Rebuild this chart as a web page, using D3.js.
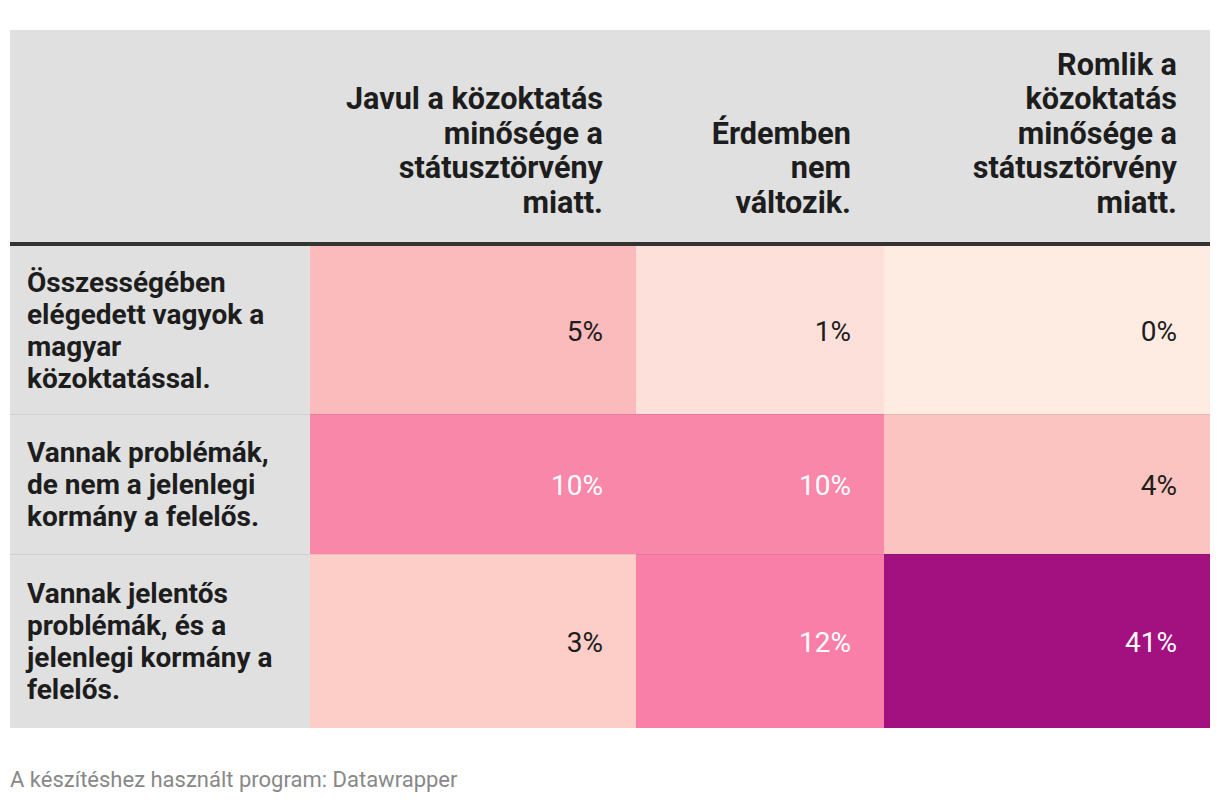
<!DOCTYPE html>
<html>
<head>
<meta charset="utf-8">
<script src="https://cdn.jsdelivr.net/npm/d3@7/dist/d3.min.js"></script>
<style>
  html, body { margin: 0; padding: 0; background: #ffffff; }
  svg { display: block; font-family: Roboto, "Noto Sans", sans-serif; }
</style>
</head>
<body>
<svg id="chart" width="1220" height="804"></svg>
<script>
// ---------- DATA ----------
const columns = [
  "Javul a közoktatás minősége a státusztörvény miatt.",
  "Érdemben nem változik.",
  "Romlik a közoktatás minősége a státusztörvény miatt."
];
const columnLines = [
  ["Javul a közoktatás", "minősége a", "státusztörvény", "miatt."],
  ["Érdemben", "nem", "változik."],
  ["Romlik a", "közoktatás", "minősége a", "státusztörvény", "miatt."]
];
const rows = [
  "Összességében elégedett vagyok a magyar közoktatással.",
  "Vannak problémák, de nem a jelenlegi kormány a felelős.",
  "Vannak jelentős problémák, és a jelenlegi kormány a felelős."
];
const rowLines = [
  ["Összességében", "elégedett vagyok a", "magyar", "közoktatással."],
  ["Vannak problémák,", "de nem a jelenlegi", "kormány a felelős."],
  ["Vannak jelentős", "problémák, és a", "jelenlegi kormány a", "felelős."]
];
const valuesImproves = [5, 10, 3];
const valuesNoChange = [1, 10, 12];
const valuesWorsens = [0, 4, 41];
const footerText = "A készítéshez használt program: Datawrapper";

// ---------- LAYOUT ----------
const W = 1220, H = 804;
const left = 10, right = 1210;
const headerTop = 30, headerBottom = 242, ruleH = 4;
const labelColRight = 310;
const colEdges = [310, 636, 884, 1210];
const rowEdges = [246, 414, 554, 728];

const svg = d3.select("#chart");
svg.append("rect").attr("width", W).attr("height", H).attr("fill", "#ffffff");

const series = [valuesImproves, valuesNoChange, valuesWorsens];
const cells = [];
rows.forEach((r, ri) => columns.forEach((c, ci) => cells.push({ row: r, col: c, ri, ci, v: series[ci][ri] })));

// scales
const xStart = d3.scaleOrdinal().domain(columns).range(colEdges.slice(0, 3));
const xEnd = d3.scaleOrdinal().domain(columns).range(colEdges.slice(1));
const yStart = d3.scaleOrdinal().domain(rows).range(rowEdges.slice(0, 3));
const yEnd = d3.scaleOrdinal().domain(rows).range(rowEdges.slice(1));
const color = d3.scaleLinear()
  .domain([0, 1, 3, 4, 5, 10, 12, 41])
  .range(["#feebe2", "#fde0da", "#fdcdc7", "#fcc4c0", "#fbbabc", "#f887aa", "#f97fa8", "#a3107f"])
  .interpolate(d3.interpolateRgb);

// header background
svg.append("rect").attr("x", left).attr("y", headerTop)
  .attr("width", right - left).attr("height", headerBottom - headerTop).attr("fill", "#e0e0e0");
svg.append("rect").attr("x", left).attr("y", headerBottom)
  .attr("width", right - left).attr("height", ruleH).attr("fill", "#333333");
// label column background
svg.append("rect").attr("x", left).attr("y", rowEdges[0])
  .attr("width", labelColRight - left).attr("height", rowEdges[3] - rowEdges[0]).attr("fill", "#e0e0e0");

// cells
svg.append("g").selectAll("rect").data(cells).join("rect")
  .attr("x", d => xStart(d.col))
  .attr("y", d => yStart(d.row))
  .attr("width", d => xEnd(d.col) - xStart(d.col))
  .attr("height", d => yEnd(d.row) - yStart(d.row))
  .attr("fill", d => color(d.v));

// row separators
svg.append("g").selectAll("line").data(rows.slice(1)).join("line")
  .attr("x1", left).attr("x2", right)
  .attr("y1", d => yStart(d) + 0.5).attr("y2", d => yStart(d) + 0.5)
  .attr("stroke", "rgba(0,0,0,0.07)").attr("stroke-width", 1);

// values
const valFs = 28, pad = 33;
svg.append("g").selectAll("text").data(cells).join("text")
  .attr("x", d => xEnd(d.col) - pad)
  .attr("y", d => (yStart(d.row) + yEnd(d.row)) / 2 + valFs * 0.38)
  .attr("text-anchor", "end")
  .attr("font-size", valFs)
  .attr("fill", d => d.v >= 10 ? "#ffffff" : "#1d1d1d")
  .text(d => d.v + "%");

// header labels
const hFs = 30.6, hLh = 34.5, hLastBaseline = 212.5;
const hg = svg.append("g").selectAll("text").data(columns).join("text")
  .attr("text-anchor", "end")
  .attr("font-size", hFs).attr("font-weight", 700).attr("fill", "#1d1d1d");
hg.each(function (c, i) {
  const lines = columnLines[i];
  d3.select(this).selectAll("tspan").data(lines).join("tspan")
    .attr("x", xEnd(c) - pad)
    .attr("y", (l, k) => hLastBaseline - (lines.length - 1 - k) * hLh)
    .text(l => l);
});

// row labels
const rFs = 28, rLh = 32.2;
const rg = svg.append("g").selectAll("text").data(rows).join("text")
  .attr("font-size", rFs).attr("font-weight", 700).attr("fill", "#1d1d1d");
rg.each(function (r, i) {
  const lines = rowLines[i];
  const mid = (yStart(r) + yEnd(r)) / 2;
  d3.select(this).selectAll("tspan").data(lines).join("tspan")
    .attr("x", 27)
    .attr("y", (l, k) => mid - (lines.length - 1) * rLh / 2 + k * rLh + rFs * 0.36)
    .text(l => l);
});

// footer
svg.append("text").attr("x", 10).attr("y", 787)
  .attr("font-size", 22).attr("fill", "#888888").text(footerText);
</script>
</body>
</html>
